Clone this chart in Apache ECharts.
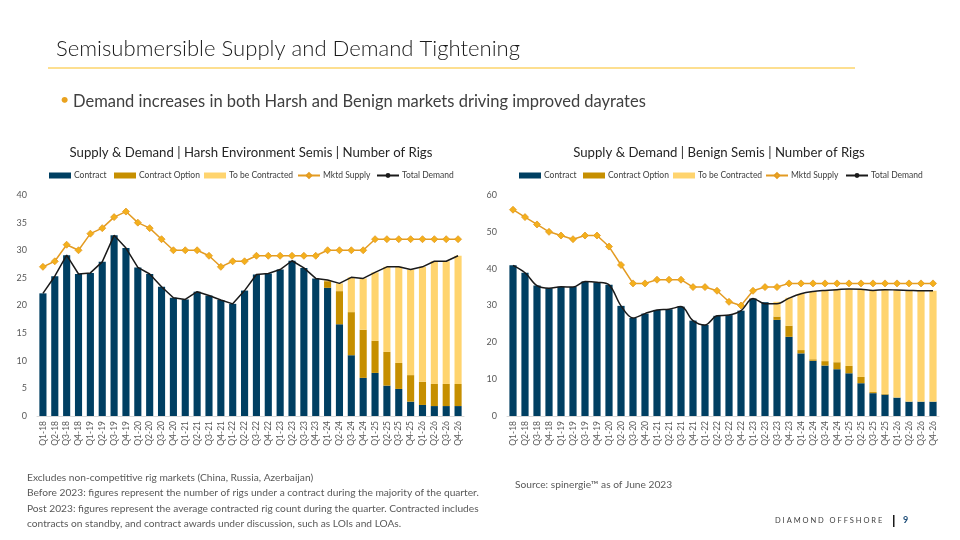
<!DOCTYPE html>
<html><head><meta charset="utf-8">
<script src="https://cdn.jsdelivr.net/npm/echarts@6/dist/echarts.min.js"></script>
<style>html,body{margin:0;padding:0;background:#fff}#c{width:960px;height:540px}</style>
</head><body><div id="c"></div>
<script>
const quarters = ['Q1-18','Q2-18','Q3-18','Q4-18','Q1-19','Q2-19','Q3-19','Q4-19','Q1-20','Q2-20','Q3-20','Q4-20','Q1-21','Q2-21','Q3-21','Q4-21','Q1-22','Q2-22','Q3-22','Q4-22','Q1-23','Q2-23','Q3-23','Q4-23','Q1-24','Q2-24','Q3-24','Q4-24','Q1-25','Q2-25','Q3-25','Q4-25','Q1-26','Q2-26','Q3-26','Q4-26'];

// Harsh environment semis
const harshContract = [22.2,25.3,29.1,25.7,25.9,27.9,32.7,30.4,26.9,25.7,23.4,21.4,21.1,22.5,21.8,21.0,20.3,22.7,25.6,25.8,26.5,28.1,26.8,24.9,23.2,16.6,11.0,6.9,7.8,5.5,4.9,2.6,2.0,1.8,1.8,1.8];
const harshOption = [0,0,0,0,0,0,0,0,0,0,0,0,0,0,0,0,0,0,0,0,0,0,0,0,1.2,6.0,7.8,8.7,5.8,6.1,4.7,4.8,4.2,4.0,4.0,4.0];
const harshToBe = [0,0,0,0,0,0,0,0,0,0,0,0,0,0,0,0,0,0,0,0,0,0,0,0,0.2,1.4,6.3,9.3,12.4,15.4,17.4,19.1,20.8,22.2,22.2,23.2];
const harshSupply = [27,28,31,30,33,34,36,37,35,34,32,30,30,30,29,27,28,28,29,29,29,29,29,29,30,30,30,30,32,32,32,32,32,32,32,32];
const harshDemand = [22.2,25.3,29.1,25.7,25.9,27.9,32.7,30.4,26.9,25.7,23.4,21.4,21.1,22.5,21.8,21.0,20.3,22.7,25.6,25.8,26.5,28.1,26.8,24.9,24.6,24.0,25.1,24.9,26.0,27.0,27.0,26.5,27.0,28.0,28.0,29.0];

// Benign semis
const benignContract = [40.9,38.9,35.4,34.7,35.1,35.0,36.5,36.3,35.6,29.9,26.6,27.8,28.8,29.0,29.7,25.9,24.7,27.2,27.4,28.6,31.9,30.9,26.1,21.5,17.0,15.0,13.7,12.7,11.6,8.9,6.2,5.8,5.0,3.9,3.9,3.9];
const benignOption = [0,0,0,0,0,0,0,0,0,0,0,0,0,0,0,0,0,0,0,0,0,0,0.9,3.0,0.9,0.4,1.2,1.9,2.0,1.7,0.3,0.2,0,0,0,0];
const benignToBe = [0,0,0,0,0,0,0,0,0,0,0,0,0,0,0,0,0,0,0,0,0,0,4.0,7.6,15.3,18.4,19.2,19.7,20.9,23.8,27.6,28.3,29.2,30.2,30.1,30.1];
const benignSupply = [56,54,52,50,49,48,49,49,46,41,36,36,37,37,37,35,35,34,31,30,34,35,35,36,36,36,36,36,36,36,36,36,36,36,36,36];
const benignDemand = [40.9,38.9,35.4,34.7,35.1,35.0,36.5,36.3,35.6,29.9,26.6,27.8,28.8,29.0,29.7,25.9,24.7,27.2,27.4,28.6,31.9,30.5,30.5,32.0,33.2,33.8,34.1,34.3,34.5,34.4,34.1,34.3,34.2,34.1,34.0,34.0];

const seriesNames = ['Contract','Contract Option','To be Contracted','Mktd Supply','Total Demand'];

const FONT = 'Lato, "Open Sans", sans-serif';
const C_NAVY = '#003F62', C_OPT = '#C68F00', C_TBC = '#FFD46E', C_SUP = '#E39B22', C_SUPM = '#F4B01C', C_DEM = '#1a1a1a';

function grid(left, width) { return {left: left, width: width, top: 195, bottom: 124, containLabel: false}; }
function xAxis(i) {
  return {type:'category', gridIndex:i, data: quarters,
    axisLine:{lineStyle:{color:'#D9D9D9'}}, axisTick:{show:false},
    axisLabel:{rotate:90, interval:0, fontSize:8.5, color:'#595959', fontFamily:FONT, margin:5}};
}
function yAxis(i, max, interval) {
  return {type:'value', gridIndex:i, min:0, max:max, interval:interval,
    axisLine:{show:false}, axisTick:{show:false}, splitLine:{show:false},
    axisLabel:{fontSize:9, color:'#595959', fontFamily:FONT, margin:10}};
}
function makeSeries(i, contract, option, tobe, supply, demand, smooth) {
  const st = 'stack' + i;
  const bar = (name, data, color) => ({name, type:'bar', xAxisIndex:i, yAxisIndex:i, stack:st, data,
    itemStyle:{color}, barCategoryGap:'40%', silent:true});
  return [
    bar(seriesNames[0], contract, C_NAVY),
    bar(seriesNames[1], option, C_OPT),
    bar(seriesNames[2], tobe, C_TBC),
    {name:seriesNames[3], type:'line', xAxisIndex:i, yAxisIndex:i, data:supply,
      symbol:'diamond', symbolSize:7, lineStyle:{color:C_SUP, width:1.5},
      itemStyle:{color:C_SUPM, borderColor:C_SUP, borderWidth:0.8}, z:5},
    {name:seriesNames[4], type:'line', xAxisIndex:i, yAxisIndex:i, data:demand,
      symbol:'none', smooth:smooth, lineStyle:{color:C_DEM, width:1.5}, itemStyle:{color:C_DEM}, z:6}
  ];
}
const legendLeftL = [44, 109, 199, 292, 371];
const legendLeftR = [514, 578, 668, 760, 840];
function legends(lefts) {
  return seriesNames.map((n,k) => ({
    left: lefts[k], top: 166, itemGap: 0, itemWidth: 22, itemHeight: 6, selectedMode:false,
    textStyle:{fontSize:8.5, color:'#404040', fontFamily:FONT, padding:[0,0,0,-2]},
    data:[k<3 ? {name:n, icon:'rect'} : {name:n}]
  }));
}

const chart = echarts.init(document.getElementById('c'), null, {renderer:'canvas'});
chart.setOption({
  animation:false,
  textStyle:{fontFamily:FONT},
  title:[
    {text:'Semisubmersible Supply and Demand Tightening', left:51, top:33,
      textStyle:{fontSize:22.1, fontWeight:300, color:'#1a1a1a', fontFamily:FONT}},
    {text:'Supply & Demand | Harsh Environment Semis | Number of Rigs', left:246, top:141, textAlign:'center',
      textStyle:{fontSize:13.2, fontWeight:'normal', color:'#262626', fontFamily:FONT}},
    {text:'Supply & Demand | Benign Semis | Number of Rigs', left:714, top:141, textAlign:'center',
      textStyle:{fontSize:13.2, fontWeight:'normal', color:'#262626', fontFamily:FONT}}
  ],
  graphic:[
    {type:'line', shape:{x1:48, y1:68, x2:855, y2:68}, style:{stroke:'#FCD46B', lineWidth:1.5}},
    {type:'text', left:60, top:92, style:{text:'•', fill:'#E9A21F', font:'16px '+FONT}},
    {type:'text', left:73, top:93, style:{text:'Demand increases in both Harsh and Benign markets driving improved dayrates', fill:'#404040', font:'16.5px '+FONT}},
    {type:'text', left:27, top:470, style:{text:'Excludes non-competitive rig markets (China, Russia, Azerbaijan)\nBefore 2023: figures represent the number of rigs under a contract during the majority of the quarter.\nPost 2023: figures represent the average contracted rig count during the quarter. Contracted includes\ncontracts on standby, and contract awards under discussion, such as LOIs and LOAs.', fill:'#595959', font:'10.2px '+FONT, lineHeight:15.3}},
    {type:'text', left:515, top:480, style:{text:'Source: spinergie\u2122 as of June 2023', fill:'#595959', font:'10.2px '+FONT}},
    {type:'text', left:775, top:517, style:{text:'D I A M O N D   O F F S H O R E', fill:'#404040', font:'7.5px '+FONT}},
    {type:'rect', shape:{x:893, y:515, width:1.5, height:12}, style:{fill:'#1a1a1a'}},
    {type:'text', left:903, top:516, style:{text:'9', fill:'#1F4E79', font:'bold 9px '+FONT}}
  ],
  legend: legends(legendLeftL).concat(legends(legendLeftR)),
  grid:[grid(37, 427), grid(507, 432)],
  xAxis:[xAxis(0), xAxis(1)],
  yAxis:[yAxis(0, 40, 5), yAxis(1, 60, 10)],
  series:[].concat(
    makeSeries(0, harshContract, harshOption, harshToBe, harshSupply, harshDemand, false),
    makeSeries(1, benignContract, benignOption, benignToBe, benignSupply, benignDemand, 0.35)
  )
});
</script></body></html>
